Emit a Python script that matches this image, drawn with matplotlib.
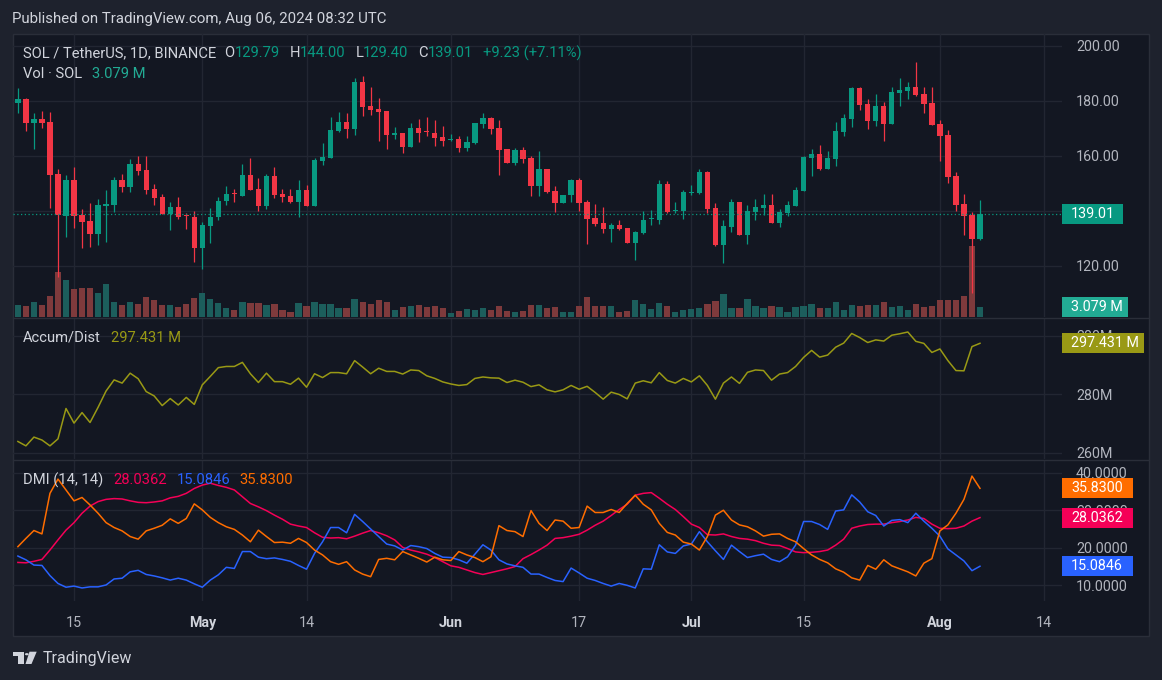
import matplotlib
matplotlib.use("Agg")
import matplotlib.pyplot as plt
from matplotlib.patches import Rectangle, Polygon, Circle
from matplotlib.lines import Line2D
import numpy as np
import pandas as pd

plt.rcParams['font.family'] = ['Roboto', 'DejaVu Sans']

W, H = 1162, 680
BG = '#1e222d'
PANE_BG = '#131722'
BORDER = '#2a2e39'
GRID = '#222632'
TEXT = '#b2b5be'
LEGEND = '#d1d4dc'
UP = '#089981'
DOWN = '#f23645'
VOL_UP = '#1c5e5c'
VOL_DOWN = '#7e3a3c'
VOL_TAG = '#22ab94'
AD_COLOR = '#999915'
ADX_COLOR = '#f50057'
PDI_COLOR = '#2962ff'
MDI_COLOR = '#ff6d00'

# daily candles, Apr 8 -> Aug 6 2024
dates = pd.date_range('2024-04-08', '2024-08-06', freq='D')

opens = [179.4, 180.7, 172.1, 173.3, 172.4, 153.5, 138.3, 151.3, 138.4, 136.4, 131.8, 141.9,
         142.3, 151.3, 148.8, 157.1, 154.9, 148.0, 145.1, 139.0, 141.5, 138.2, 137.8,
         126.7, 134.7, 137.7, 143.8, 146.3, 145.6, 153.1, 148.0, 141.9, 152.8, 146.3, 145.5,
         143.3, 147.5, 141.9, 158.3, 159.4, 169.2, 172.2, 169.8, 187.0, 178.2, 177.1, 176.4,
         167.5, 168.4, 163.4, 170.2, 168.8, 168.4, 166.9,
         165.9, 166.1, 163.0, 164.6, 171.8, 173.7, 170.2, 162.5, 157.6, 162.2, 159.3, 149.2,
         155.2, 147.2, 142.9, 145.7, 151.3, 143.2, 137.6, 135.8, 133.5, 134.8, 133.8, 128.5,
         132.0, 137.0, 136.7, 149.8, 140.0, 140.0,
         146.7, 146.5, 154.2, 141.1, 127.6, 134.3, 143.3, 131.4, 139.8, 141.2, 142.2, 135.8,
         139.3, 141.9, 147.4, 159.4, 160.7, 155.3, 159.0, 168.8, 173.5, 184.7, 178.9, 172.7,
         178.2, 171.6, 183.0, 183.8, 185.1, 182.5, 179.3,
         171.6, 167.6, 152.7, 142.5, 138.5, 129.79]
highs = [184.6, 181.1, 175.5, 176.4, 176.1, 155.2, 153.1, 156.0, 140.7, 142.9, 144.4, 147.6,
         152.4, 153.5, 158.8, 160.0, 160.0, 149.8, 146.2, 143.3, 145.0, 139.4, 140.0,
         136.0, 141.0, 145.2, 149.1, 148.0, 157.1, 159.2, 152.1, 153.5, 156.1, 148.0, 148.0,
         151.2, 149.5, 159.2, 164.7, 174.1, 175.9, 175.5, 188.5, 189.2, 185.2, 181.1, 176.4,
         170.7, 168.4, 172.1, 173.3, 174.1, 173.1, 170.9,
         167.9, 167.3, 167.3, 172.0, 175.6, 174.3, 173.1, 162.5, 163.0, 163.4, 160.0, 161.8,
         155.2, 149.2, 145.7, 151.6, 152.1, 144.0, 142.4, 141.3, 135.6, 136.6, 133.8, 132.7,
         140.0, 140.4, 151.3, 150.9, 143.4, 147.6,
         149.5, 155.3, 154.7, 142.9, 136.7, 144.4, 143.3, 142.2, 144.4, 146.2, 146.2, 140.7,
         143.6, 148.7, 160.0, 162.5, 164.0, 161.8, 172.4, 175.3, 185.2, 185.2, 180.7, 182.5,
         179.6, 185.1, 188.4, 186.9, 194.2, 185.1, 185.1,
         173.1, 169.5, 154.2, 146.2, 139.8, 144.00]
lows = [175.5, 169.2, 162.7, 170.3, 141.2, 116.1, 130.7, 133.7, 126.7, 126.8, 127.6, 128.8,
        139.6, 146.9, 146.9, 153.1, 146.1, 142.2, 139.0, 133.1, 137.1, 133.5, 121.6,
        118.8, 128.5, 136.7, 142.2, 143.4, 145.6, 147.6, 140.1, 140.7, 144.8, 143.3, 142.8,
        137.9, 141.9, 141.9, 156.7, 159.4, 168.8, 166.4, 167.6, 174.5, 174.9, 165.6, 162.7,
        166.2, 161.2, 163.4, 165.2, 167.3, 163.8, 163.6,
        165.6, 161.6, 161.9, 164.4, 170.2, 167.9, 153.1, 157.6, 156.7, 157.6, 145.6, 145.6,
        146.4, 139.8, 142.9, 143.4, 140.1, 128.0, 134.7, 132.0, 128.8, 133.1, 128.5, 122.3,
        131.5, 134.9, 135.3, 139.2, 139.4, 137.1,
        145.9, 146.2, 139.2, 127.3, 121.2, 132.5, 131.4, 128.1, 136.7, 138.5, 135.8, 134.3,
        138.3, 141.9, 147.4, 152.8, 154.9, 155.3, 156.4, 167.3, 170.5, 176.7, 169.8, 170.9,
        165.5, 171.6, 178.2, 180.7, 181.8, 175.6, 171.3,
        158.2, 150.2, 140.0, 131.3, 110.2, 129.40]
closes = [180.7, 172.1, 173.3, 172.1, 153.2, 138.4, 151.3, 138.3, 136.0, 131.8, 142.2, 142.5,
          151.3, 148.8, 157.1, 154.7, 147.6, 144.8, 139.0, 141.5, 137.9, 138.0, 126.7,
          134.9, 137.7, 143.6, 146.2, 146.0, 153.1, 147.6, 141.9, 152.8, 145.9, 145.2, 143.3,
          147.5, 141.9, 158.5, 159.8, 169.5, 172.2, 169.8, 187.0, 177.9, 176.7, 176.1, 167.5,
          168.4, 163.4, 170.2, 168.5, 168.6, 166.7, 165.6,
          166.1, 163.0, 165.0, 172.0, 173.7, 169.8, 162.3, 157.6, 162.2, 158.9, 149.2, 155.2,
          146.8, 142.9, 145.7, 151.3, 142.9, 137.2, 135.3, 133.5, 134.8, 133.5, 128.5, 132.4,
          136.7, 137.1, 149.8, 139.5, 140.2, 146.9,
          146.9, 154.2, 140.7, 127.6, 134.5, 143.3, 131.4, 140.0, 141.5, 142.2, 135.8, 139.6,
          142.2, 147.6, 159.8, 160.7, 155.3, 159.3, 169.1, 173.8, 184.7, 178.5, 172.7, 178.2,
          171.6, 183.3, 184.0, 185.1, 182.2, 178.9, 171.3,
          167.3, 152.4, 142.2, 138.2, 129.78, 139.01]
# volume in millions of SOL
volumes = [3.7, 3.4, 4.6, 3.7, 6.4, 13.5, 11.1, 8.4, 8.7, 8.7, 7.2, 9.9, 4.6, 3.7, 4.6, 4.0,
           6.1, 5.2, 3.7, 3.7, 3.1, 4.0, 5.8,
           7.2, 5.5, 4.3, 2.8, 2.2, 4.6, 4.3, 4.3, 3.7, 4.0, 2.2, 1.6, 4.3, 3.4, 4.6, 4.0,
           4.0, 2.8, 2.8, 5.5, 4.6, 4.0, 5.2, 4.6, 2.2, 3.1, 3.4, 3.7, 3.1, 3.4, 2.8,
           1.3, 1.9, 2.5, 2.2, 2.8, 2.2, 3.4, 1.9, 1.6, 1.9, 3.7, 3.7, 2.8, 3.1, 1.6, 1.6,
           3.4, 6.1, 3.4, 3.4, 3.4, 1.6, 1.9, 5.2, 4.0, 2.5, 4.3, 3.4, 1.6, 2.2,
           2.5, 2.8, 4.0, 4.9, 7.0, 2.8, 2.8, 5.5, 3.4, 2.8, 3.4, 3.1, 1.6, 3.1, 3.4, 4.0,
           2.8, 2.8, 4.6, 2.2, 3.7, 3.4, 3.7, 3.7, 4.6, 3.1, 3.4, 2.2, 4.0, 3.1, 3.4,
           5.2, 5.2, 5.2, 6.4, 21.3, 3.079]
# Accum/Dist in millions
accum_dist = [263.8, 262.3, 265.3, 264.3, 262.3, 264.7, 275.1, 270.1, 273.7, 270.3,
              275.5, 281.1, 284.9, 283.8, 287.2, 285.3, 280.9, 279.4, 276.1, 278.5,
              276.3, 278.9, 276.5, 283.2, 286.1, 289.1, 289.5, 289.5, 290.9, 287.0,
              284.0, 287.2, 284.3, 284.3, 283.4, 285.5, 282.4, 287.0, 285.7, 287.4,
              287.4, 287.0, 291.5, 289.3, 287.0, 288.9, 287.8, 287.8, 286.9, 288.3,
              288.1, 286.3, 285.4, 284.2, 283.5, 283.0, 283.3, 285.4, 285.9, 285.6,
              285.5, 284.0, 284.8, 284.1, 282.6, 283.2, 281.5, 280.8, 281.5, 283.0,
              281.7, 282.7, 280.6, 278.3, 280.7, 279.9, 278.4, 283.8, 284.6, 283.9,
              287.4, 284.7, 283.8, 285.4, 284.2, 286.3, 283.0, 278.3, 283.8, 285.9,
              283.7, 287.5, 288.3, 288.1, 284.8, 286.9, 287.4, 289.5, 292.6, 295.0,
              292.7, 293.4, 296.1, 297.5, 300.8, 299.4, 297.7, 298.6, 298.2, 300.2,
              300.7, 301.3, 298.1, 297.4, 294.3, 295.5, 291.5, 288.1, 288.0, 296.3,
              297.431]
adx = [16.1, 16.0, 16.4, 16.9, 19.4, 22.1, 24.7, 26.7, 29.2, 31.1,
       32.3, 32.9, 33.1, 33.0, 32.5, 32.1, 32.0, 32.2, 32.5, 33.3,
       33.7, 34.5, 35.8, 36.7, 37.2, 36.6, 36.1, 35.4, 33.6, 31.8,
       30.9, 29.9, 28.7, 27.6, 26.3, 25.8, 25.4, 24.0, 22.8, 22.6,
       22.7, 22.4, 23.1, 23.9, 24.6, 24.0, 23.2, 22.1, 20.1, 19.4,
       18.9, 18.3, 17.4, 16.3, 15.2, 14.8, 14.1, 13.4, 12.9, 13.4,
       13.9, 14.4, 15.0, 17.1, 18.2, 19.4, 20.7, 22.5, 22.7, 23.1,
       23.6, 24.7, 26.0, 27.1, 28.6, 30.2, 31.6, 34.0, 34.5, 34.7,
       33.2, 31.6, 30.2, 28.3, 26.3, 25.4, 23.5, 23.4, 23.7, 23.0,
       22.5, 22.3, 21.9, 21.2, 20.7, 20.6, 19.8, 18.9, 18.7, 18.8,
       19.0, 19.4, 20.7, 22.3, 25.2, 25.8, 26.2, 26.3, 26.3, 26.7,
       27.0, 27.4, 28.1, 27.8, 26.3, 25.2, 25.1, 25.2, 25.8, 27.1,
       28.0362]
plus_di = [17.8, 16.8, 15.4, 15.3, 12.6, 10.5, 9.5, 9.8, 9.3, 9.6,
           9.6, 10.1, 11.7, 11.9, 13.6, 14.0, 12.9, 12.5, 12.0, 11.4,
           11.9, 11.4, 10.4, 9.5, 11.4, 12.8, 14.8, 14.5, 19.0, 19.0,
           17.5, 17.1, 17.3, 16.9, 16.4, 15.3, 14.3, 18.5, 21.6, 25.4,
           25.4, 24.0, 28.9, 27.0, 25.0, 23.0, 21.0, 20.5, 19.4, 20.6,
           20.3, 19.8, 18.5, 17.5, 17.4, 16.8, 15.9, 18.3, 20.8, 19.4,
           16.8, 15.7, 15.2, 14.8, 13.0, 13.0, 12.1, 11.3, 11.0, 14.6,
           13.3, 11.9, 11.3, 10.5, 9.8, 10.5, 10.0, 9.3, 14.4, 14.3,
           20.8, 18.9, 18.5, 20.5, 21.0, 24.3, 21.6, 19.2, 16.9, 20.7,
           19.0, 17.4, 17.9, 18.3, 16.9, 16.3, 17.6, 20.7, 27.0, 27.0,
           26.2, 24.9, 29.8, 30.1, 34.1, 32.2, 29.6, 28.6, 25.8, 27.3,
           27.5, 26.7, 29.2, 27.1, 25.2, 23.1, 19.7, 18.1, 16.5, 13.9,
           15.0846]
minus_di = [20.3, 22.5, 24.6, 23.7, 34.5, 38.3, 35.4, 32.5, 33.4, 31.4,
            29.2, 26.7, 25.4, 24.5, 23.0, 22.3, 24.5, 25.2, 26.0, 27.7,
            26.5, 27.8, 31.7, 30.1, 28.1, 26.7, 25.6, 24.9, 23.4, 21.6,
            24.7, 23.0, 21.4, 21.5, 21.2, 22.5, 21.4, 19.4, 18.1, 16.3,
            15.6, 16.3, 14.1, 13.0, 12.3, 16.9, 17.2, 16.8, 19.0, 18.1,
            17.2, 16.2, 17.5, 16.8, 16.6, 19.0, 18.1, 17.4, 16.3, 17.6,
            25.9, 24.6, 24.3, 23.0, 29.9, 26.5, 24.6, 27.4, 27.1, 25.2,
            25.4, 31.1, 29.4, 29.4, 30.2, 29.4, 31.8, 34.0, 31.6, 30.1,
            26.5, 24.1, 23.4, 21.5, 21.0, 19.4, 23.0, 28.7, 30.0, 27.4,
            26.1, 25.6, 24.5, 23.1, 23.6, 23.7, 22.5, 21.6, 19.8, 18.1,
            16.9, 16.0, 14.4, 13.5, 12.0, 11.4, 15.3, 14.3, 16.8, 15.2,
            14.4, 13.6, 12.5, 15.9, 17.1, 24.5, 26.1, 29.2, 32.9, 39.1,
            35.83]

tick_dates = pd.to_datetime(['2024-04-15', '2024-05-01', '2024-05-14', '2024-06-01', '2024-06-17',
                             '2024-07-01', '2024-07-15', '2024-08-01', '2024-08-14'])
price_ticks = [120, 140, 160, 180, 200]
ad_ticks = [260, 280, 300]
dmi_ticks = [10, 20, 30, 40]

opens = np.array(opens)
highs = np.array(highs)
lows = np.array(lows)
closes = np.array(closes)
x = np.arange(len(dates))
tick_pos = (tick_dates - dates[0]).days.values
tick_lbl = [d.strftime('%b') if d.day == 1 else str(d.day) for d in tick_dates]

fig = plt.figure(figsize=(W / 100, H / 100), dpi=100, facecolor=BG)


def rect(x0, y0, x1, y1):
    return [x0 / W, 1 - y1 / H, (x1 - x0) / W, (y1 - y0) / H]


def P(px, py):
    return (px / W, 1 - py / H)


PX0, PX1 = 13, 1062
PW = PX1 - PX0
XLIM = (-0.61, 130.23)

# chart frame
fig.patches.append(Rectangle(P(12.5, 635.5), 1136 / W, 602 / H, transform=fig.transFigure,
                             facecolor=PANE_BG, edgecolor=BORDER, linewidth=1, zorder=-5))
for yy in (317.5, 459.5):
    fig.lines.append(Line2D([12.5 / W, 1148.5 / W], [1 - yy / H, 1 - yy / H],
                            transform=fig.transFigure, color=BORDER, linewidth=1, zorder=5))

ax_price = fig.add_axes(rect(PX0, 34, PX1, 317))
ax_vol = fig.add_axes(rect(PX0, 34, PX1, 317))
ax_candle = fig.add_axes(rect(PX0, 34, PX1, 317))
ax_ad = fig.add_axes(rect(PX0, 318, PX1, 459))
ax_dmi = fig.add_axes(rect(PX0, 460, PX1, 601))


def style(ax, ylim, yticks=None, fmt=None, grid=True, hidden=()):
    ax.set_facecolor('none')
    for s in ax.spines.values():
        s.set_visible(False)
    ax.set_xlim(*XLIM)
    ax.set_ylim(*ylim)
    ax.set_xticks(tick_pos)
    ax.tick_params(axis='x', length=0, labelbottom=False)
    ax.yaxis.tick_right()
    if yticks is not None:
        ax.set_yticks(yticks)
        # labels that sit fully under a last-value tag are left blank
        ax.set_yticklabels(['' if v in hidden else fmt(v) for v in yticks])
        ax.tick_params(axis='y', length=0, pad=10, labelsize=10.3, labelcolor=TEXT)
    else:
        ax.set_yticks([])
    if grid:
        ax.grid(True, color=GRID, linewidth=1)
        ax.set_axisbelow(True)


style(ax_price, (101.45, 204.36), price_ticks, lambda v: f'{v:.2f}', hidden=(140,))
style(ax_vol, (0, 84.6), grid=False)
style(ax_candle, (101.45, 204.36), grid=False)
style(ax_ad, (257.8, 306.1), ad_ticks, lambda v: f'{v:.0f}M')
style(ax_dmi, (5.83, 43.38), dmi_ticks, lambda v: f'{v:.4f}')

up = closes >= opens
# volume
ax_vol.bar(x, volumes, width=0.78, color=np.where(up, VOL_UP, VOL_DOWN), linewidth=0)
# candles
ccol = np.where(up, UP, DOWN)
ax_candle.vlines(x, lows, highs, colors=ccol, linewidth=0.9)
body_lo = np.minimum(opens, closes)
body_h = np.maximum(np.abs(closes - opens), 0.36)
ax_candle.bar(x, body_h, bottom=body_lo, width=0.66, color=ccol, linewidth=0)
ax_candle.axhline(closes[-1], color=UP, linewidth=0.9, linestyle=(0, (1, 2)))

# accumulation / distribution
ax_ad.plot(x, accum_dist, color=AD_COLOR, linewidth=1.1)
# DMI
ax_dmi.plot(x, adx, color=ADX_COLOR, linewidth=1.1)
ax_dmi.plot(x, plus_di, color=PDI_COLOR, linewidth=1.1)
ax_dmi.plot(x, minus_di, color=MDI_COLOR, linewidth=1.1)

# date axis
ax_dmi.set_xticklabels(tick_lbl)
ax_dmi.tick_params(axis='x', labelbottom=True, pad=11, labelsize=10.3, labelcolor=TEXT)
for t in ax_dmi.get_xticklabels():
    if not t.get_text().isdigit():
        t.set_fontweight('bold')
        t.set_color(LEGEND)


def tag(ax, value, text, color, width_px, pane_px):
    lo, hi = ax.get_ylim()
    h = 20 * (hi - lo) / pane_px
    tr = ax.get_yaxis_transform()
    ax.add_patch(Rectangle((1.0, value - h / 2), width_px / PW, h, transform=tr,
                           facecolor=color, edgecolor='none', clip_on=False, zorder=10))
    ax.text(1.0 + 9 / PW, value, text, transform=tr, color='white', fontsize=10.3,
            va='center', ha='left', clip_on=False, zorder=11)


tag(ax_price, closes[-1], f'{closes[-1]:.2f}', UP, 61, 283)
tag(ax_vol, volumes[-1], f'{volumes[-1]:.3f} M', VOL_TAG, 66, 283)
tag(ax_ad, accum_dist[-1], f'{accum_dist[-1]:.3f} M', AD_COLOR, 82, 141)
tag(ax_dmi, minus_di[-1], f'{minus_di[-1]:.4f}', MDI_COLOR, 71, 141)
tag(ax_dmi, adx[-1], f'{adx[-1]:.4f}', ADX_COLOR, 71, 141)
tag(ax_dmi, plus_di[-1], f'{plus_di[-1]:.4f}', PDI_COLOR, 71, 141)


def legend_row(ax, x_px, y_px, parts, size=10.6):
    prev = None
    for s, c, gap in parts:
        if prev is None:
            prev = ax.annotate(s, xy=(x_px, H - y_px), xycoords='figure pixels', color=c,
                               fontsize=size, va='center', ha='left', annotation_clip=False)
        else:
            prev = ax.annotate(s, xy=(1, 0.5), xycoords=prev, xytext=(gap, 0),
                               textcoords='offset points', color=c, fontsize=size,
                               va='center', ha='left', annotation_clip=False)


legend_row(ax_candle, 23, 53, [('SOL / TetherUS, 1D, BINANCE', LEGEND, 0),
                               ('O', LEGEND, 6), (f'{opens[-1]:.2f}', UP, 0),
                               ('H', LEGEND, 7), (f'{highs[-1]:.2f}', UP, 0),
                               ('L', LEGEND, 7), (f'{lows[-1]:.2f}', UP, 0),
                               ('C', LEGEND, 7), (f'{closes[-1]:.2f}', UP, 0),
                               ('+9.23 (+7.11%)', UP, 7)])
legend_row(ax_candle, 23, 74, [('Vol · SOL', LEGEND, 0), (f'{volumes[-1]:.3f} M', VOL_TAG, 7)])
legend_row(ax_ad, 23, 338, [('Accum/Dist', LEGEND, 0), (f'{accum_dist[-1]:.3f} M', AD_COLOR, 7)])
legend_row(ax_dmi, 23, 480, [('DMI (14, 14)', LEGEND, 0), (f'{adx[-1]:.4f}', ADX_COLOR, 7),
                             (f'{plus_di[-1]:.4f}', PDI_COLOR, 7),
                             (f'{minus_di[-1]:.4f}', MDI_COLOR, 7)])

# header and footer
fig.text(12 / W, 1 - 19 / H, 'Published on TradingView.com, Aug 06, 2024 08:32 UTC',
         color=LEGEND, fontsize=10.8, va='center', ha='left')
logo = [Polygon([P(12.7, 651.7), P(24, 651.7), P(24, 664), P(18.3, 664), P(18.3, 656), P(12.7, 656)]),
        Circle(P(26.8, 654.2), 1.9 / W),
        Polygon([P(29.5, 651.7), P(36.7, 651.7), P(31.5, 664), P(25.5, 664)])]
for p in logo:
    p.set_transform(fig.transFigure)
    p.set_facecolor(LEGEND)
    p.set_edgecolor('none')
    fig.patches.append(p)
fig.text(42.5 / W, 1 - 658 / H, 'TradingView', color=LEGEND, fontsize=11.5, va='center', ha='left')

fig.savefig('out.png', dpi=100, facecolor=BG)
